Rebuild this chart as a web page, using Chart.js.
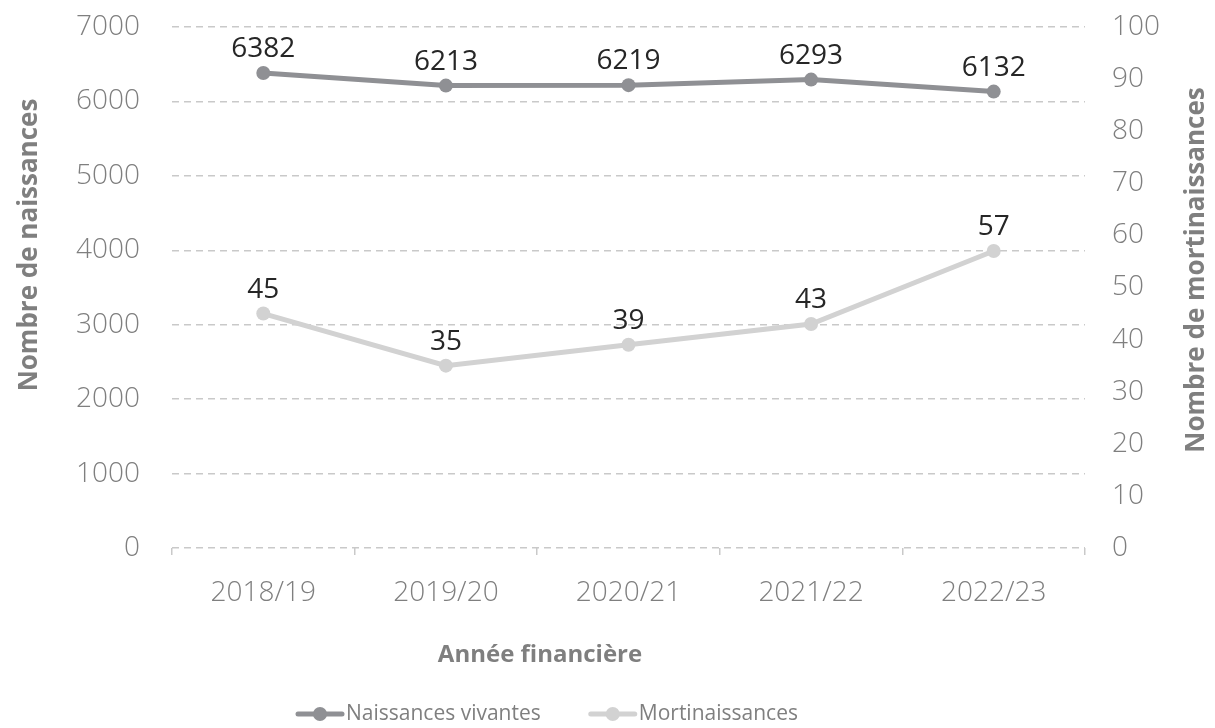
<!DOCTYPE html>
<html>
<head>
<meta charset="utf-8">
<script src="https://cdn.jsdelivr.net/npm/chart.js@4"></script>
<style>
  body { margin: 0; background: #fff; }
  #wrap { width: 1215px; height: 728px; }
</style>
</head>
<body>
<div id="wrap"><canvas id="birthsChart" width="1215" height="728"></canvas></div>
<script>
var years = ["2018/19", "2019/20", "2020/21", "2021/22", "2022/23"];
var liveBirths = [6382, 6213, 6219, 6293, 6132];
var stillBirths = [45, 35, 39, 43, 57];
var seriesNames = ["Naissances vivantes", "Mortinaissances"];
var seriesColors = ["#8f9094", "#d2d2d2"];
var axisTitles = ["Année financière", "Nombre de naissances", "Nombre de mortinaissances"];

var fontFamily = "'Open Sans', 'Noto Sans', sans-serif";
var textGray = "#7f7f7f";
var gridGray = "#c9c9c9";

function drawMarker(ctx, x, y, color) {
    ctx.strokeStyle = color;
    ctx.lineWidth = 5;
    ctx.lineCap = "round";
    ctx.beginPath();
    ctx.moveTo(x, y);
    ctx.lineTo(x + 44, y);
    ctx.stroke();
    ctx.fillStyle = color;
    ctx.beginPath();
    ctx.arc(x + 22, y, 7, 0, Math.PI * 2);
    ctx.fill();
}

function vTitle(ctx, text, x, y) {
    ctx.save();
    ctx.font = "700 26px " + fontFamily;
    ctx.fillStyle = textGray;
    ctx.textAlign = "center";
    ctx.textBaseline = "middle";
    ctx.translate(x, y);
    ctx.rotate(-Math.PI / 2);
    ctx.fillText(text, 0, 0);
    ctx.restore();
}

// values above points, axis titles and legend
var extras = {
    id: "extras",
    afterDatasetsDraw: function(chart) {
        var ctx = chart.ctx;
        ctx.save();
        ctx.font = "400 28px " + fontFamily;
        ctx.fillStyle = "#262626";
        ctx.textAlign = "center";
        ctx.textBaseline = "bottom";
        chart.data.datasets.forEach(function(ds, i) {
            var meta = chart.getDatasetMeta(i);
            meta.data.forEach(function(pt, j) {
                ctx.fillText(ds.data[j], pt.x, pt.y - 10);
            });
        });
        ctx.restore();
    },
    afterDraw: function(chart) {
        var ctx = chart.ctx;
        vTitle(ctx, axisTitles[1], 30, 245);
        vTitle(ctx, axisTitles[2], 1197, 270);

        ctx.save();
        ctx.font = "700 24px " + fontFamily;
        ctx.fillStyle = textGray;
        ctx.textAlign = "center";
        ctx.textBaseline = "middle";
        ctx.fillText(axisTitles[0], 540, 655);

        ctx.font = "400 21px " + fontFamily;
        ctx.textAlign = "left";
        var x = 298, y = 714;
        chart.data.datasets.forEach(function(ds, i) {
            drawMarker(ctx, x, y, seriesColors[i]);
            ctx.fillStyle = textGray;
            ctx.fillText(ds.label, x + 48, y);
            x += 48 + ctx.measureText(ds.label).width + 50;
        });
        ctx.restore();
    }
};

new Chart("birthsChart", {
    type: "line",
    data: {
        labels: years,
        datasets: [{
            label: seriesNames[0],
            data: liveBirths,
            yAxisID: "y",
            borderColor: seriesColors[0],
            backgroundColor: seriesColors[0],
            borderWidth: 5,
            pointRadius: 7,
            pointHoverRadius: 7,
            pointBorderWidth: 0
        }, {
            label: seriesNames[1],
            data: stillBirths,
            yAxisID: "y1",
            borderColor: seriesColors[1],
            backgroundColor: seriesColors[1],
            borderWidth: 5,
            pointRadius: 7,
            pointHoverRadius: 7,
            pointBorderWidth: 0
        }]
    },
    options: {
        responsive: false,
        animation: false,
        layout: { padding: { top: 27, left: 0, right: 0, bottom: 34 } },
        plugins: {
            tooltip: { enabled: false },
            legend: { display: false }
        },
        scales: {
            x: {
                offset: true,
                grid: {
                    offset: true,
                    drawOnChartArea: false,
                    drawTicks: true,
                    tickLength: 7,
                    color: gridGray,
                    lineWidth: 1.5
                },
                border: { display: false },
                ticks: {
                    color: textGray,
                    padding: 21,
                    font: { family: fontFamily, size: 28, weight: 300 }
                },
                afterFit: function(scale) { scale.height = 146; }
            },
            y: {
                position: "left",
                min: 0,
                max: 7000,
                ticks: {
                    stepSize: 1000,
                    color: textGray,
                    padding: 3,
                    font: { family: fontFamily, size: 28, weight: 300 },
                    callback: function(v) { return String(v); }
                },
                grid: {
                    drawTicks: true,
                    tickLength: 29,
                    tickColor: "rgba(0,0,0,0)",
                    color: gridGray,
                    lineWidth: 1.5
                },
                border: { display: false, dash: [7, 5] },
                afterFit: function(scale) { scale.width = 172; }
            },
            y1: {
                position: "right",
                min: 0,
                max: 100,
                ticks: {
                    stepSize: 10,
                    color: textGray,
                    padding: 3,
                    font: { family: fontFamily, size: 28, weight: 300 }
                },
                grid: {
                    drawOnChartArea: false,
                    drawTicks: true,
                    tickLength: 24,
                    tickColor: "rgba(0,0,0,0)"
                },
                border: { display: false },
                afterFit: function(scale) { scale.width = 130; }
            }
        }
    },
    plugins: [extras]
});
</script>
</body>
</html>
